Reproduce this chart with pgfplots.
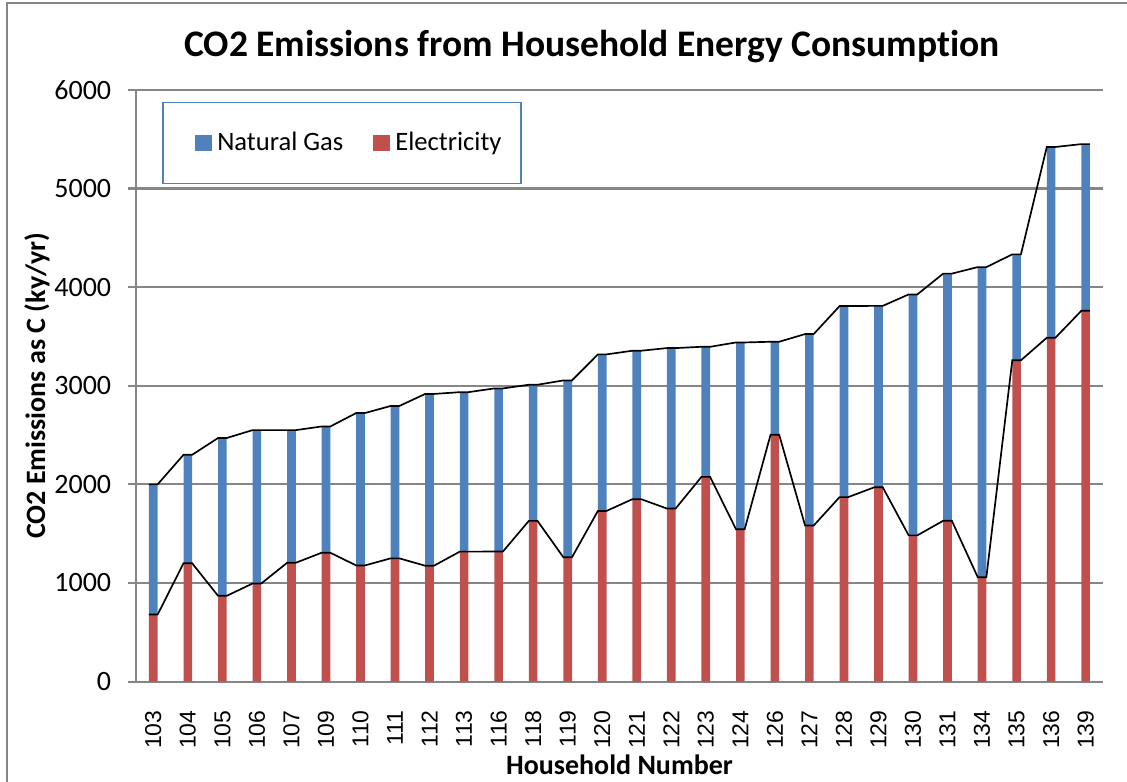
\documentclass[border=0pt]{standalone}
\usepackage{fontspec}
\setmainfont{Carlito}[Ligatures={NoCommon}]
\newfontfamily\arialfont{Liberation Sans}
\usepackage{pgfplots}
\usepackage{pgfplotstable}
\pgfplotsset{compat=1.18}
\definecolor{GAS}{HTML}{4F81BD}
\definecolor{ELEC}{HTML}{C0504D}
\definecolor{GRID}{HTML}{868686}

% household index, label, electricity, natural gas
\pgfplotstableread{
idx lab elec gas
0  103 680  1320
1  104 1200 1100
2  105 870  1600
3  106 995  1555
4  107 1205 1345
5  109 1307 1280
6  110 1178 1545
7  111 1250 1545
8  112 1175 1742
9  113 1318 1617
10 116 1319 1654
11 118 1630 1380
12 119 1261 1793
13 120 1731 1587
14 121 1850 1505
15 122 1755 1627
16 123 2076 1319
17 124 1545 1894
18 126 2503 943
19 127 1583 1941
20 128 1871 1937
21 129 1970 1840
22 130 1483 2443
23 131 1631 2506
24 134 1059 3144
25 135 3258 1074
26 136 3487 1934
27 139 3760 1690
}\households

% series lines: left and right edge of every bar
\pgfplotstableread{
x elec total
-0.125 680 2000
0.125 680 2000
0.875 1200 2300
1.125 1200 2300
1.875 870 2470
2.125 870 2470
2.875 995 2550
3.125 995 2550
3.875 1205 2550
4.125 1205 2550
4.875 1307 2587
5.125 1307 2587
5.875 1178 2723
6.125 1178 2723
6.875 1250 2795
7.125 1250 2795
7.875 1175 2917
8.125 1175 2917
8.875 1318 2935
9.125 1318 2935
9.875 1319 2973
10.125 1319 2973
10.875 1630 3010
11.125 1630 3010
11.875 1261 3054
12.125 1261 3054
12.875 1731 3318
13.125 1731 3318
13.875 1850 3355
14.125 1850 3355
14.875 1755 3382
15.125 1755 3382
15.875 2076 3395
16.125 2076 3395
16.875 1545 3439
17.125 1545 3439
17.875 2503 3446
18.125 2503 3446
18.875 1583 3524
19.125 1583 3524
19.875 1871 3808
20.125 1871 3808
20.875 1970 3810
21.125 1970 3810
21.875 1483 3926
22.125 1483 3926
22.875 1631 4137
23.125 1631 4137
23.875 1059 4203
24.125 1059 4203
24.875 3258 4332
25.125 3258 4332
25.875 3487 5421
26.125 3487 5421
26.875 3760 5450
27.125 3760 5450
}\edges

\begin{document}
\begin{tikzpicture}
\path[use as bounding box] (-48.6pt,-35.7pt) rectangle (354pt,243.5pt);
\draw[GRID, line width=0.8pt] (-46.1pt,-40pt) -- (-46.1pt,242.4pt) -- (360pt,242.4pt);
\begin{axis}[
  scale only axis, width=345.4pt, height=211.4pt,
  ybar stacked, bar width=0.25,
  xmin=-0.5, xmax=27.5, ymin=0, ymax=6000,
  xtick={0,...,27},
  xticklabels from table={\households}{lab},
  ytick={0,1000,...,6000},
  axis lines*=left,
  axis line style={GRID, line width=0.75pt},
  ymajorgrids, grid style={GRID, line width=0.75pt},
  tick align=outside,
  ytick style={GRID, line width=0.75pt},
  major tick length=2.9pt,
  xtick style={draw=none},
  /pgf/number format/assume math mode=true,
  /pgf/number format/1000 sep={},
  yticklabel style={font=\fontsize{10}{12}\selectfont, anchor=east, inner sep=0pt, xshift=-5.8pt},
  xticklabel style={font=\arialfont\fontsize{8.2}{10}\selectfont, yshift=-7.2pt, rotate=90, anchor=east, inner sep=0pt},
  xlabel={Household Number},
  ylabel={CO2 Emissions as C (ky/yr)},
  xlabel style={font=\bfseries\fontsize{10}{12}\selectfont, at={(rel axis cs:0.5,0)}, anchor=center, yshift=-29.6pt},
  ylabel style={font=\bfseries\fontsize{10}{12}\selectfont, at={(rel axis cs:0,0.5)}, anchor=center, yshift=35.4pt},
  legend columns=2,
  legend style={at={(axis description cs:0.027,0.98)}, anchor=north west,
    draw=GAS, line width=0.6pt, inner xsep=5pt, inner ysep=8.4pt,
    font=\fontsize{9.5}{11}\selectfont,
    /tikz/every even column/.append style={column sep=2.2pt}},
  clip=false,
]
\addplot[forget plot, sharp plot, stack plots=false, black, line width=0.6pt]
  table[x=x, y=total] {\edges};
\addplot[forget plot, sharp plot, stack plots=false, black, line width=0.6pt]
  table[x=x, y=elec] {\edges};
\addplot[forget plot, fill=ELEC, draw=none] table[x=idx, y=elec] {\households};
\addplot[forget plot, fill=GAS, draw=none] table[x=idx, y=gas] {\households};
\addlegendimage{legend image code/.code={\path (0pt,0pt); \fill[GAS] (6.4pt,-2.7pt) rectangle (11.8pt,2.7pt);}}
\addlegendentry{Natural Gas}
\addlegendimage{legend image code/.code={\path (0pt,0pt); \fill[ELEC] (6.4pt,-2.7pt) rectangle (11.8pt,2.7pt);}}
\addlegendentry{Electricity}
\node[font=\bfseries\fontsize{13.4}{16}\selectfont] at (rel axis cs:0.4716,1) [yshift=15.4pt]
  {CO2 Emissions from Household Energy Consumption};
\end{axis}
\end{tikzpicture}
\end{document}
